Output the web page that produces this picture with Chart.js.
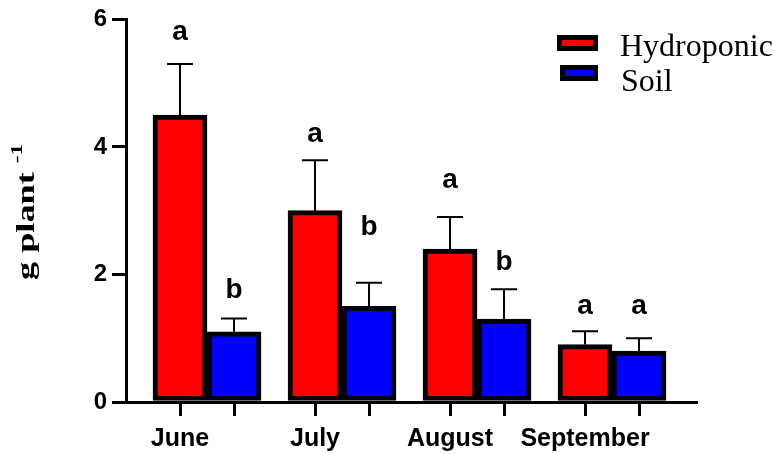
<!DOCTYPE html>
<html>
<head>
<meta charset="utf-8">
<script src="https://cdn.jsdelivr.net/npm/chart.js@4"></script>
<style>
  html, body { margin: 0; padding: 0; background: #fff; }
  #wrap { width: 774px; height: 454px; }
</style>
</head>
<body>
<div id="wrap"><canvas id="chart"></canvas></div>
<script>
// ---- data ----
const months = ['June', 'July', 'August', 'September'];
const hydroponic = [4.5, 3.0, 2.4, 0.9];
const soil = [1.1, 1.5, 1.3, 0.8];
const hydroponicErr = [0.8, 0.79, 0.5, 0.21];
const soilErr = [0.21, 0.37, 0.47, 0.2];
const hydroponicLetters = ['a', 'a', 'a', 'a'];
const soilLetters = ['b', 'b', 'b', 'a'];
// the letters sit at hand-picked heights in the original (g plant-1 units)
const hydroponicLetterAt = [5.67, 4.07, 3.35, 1.38];
const soilLetterAt = [1.63, 2.62, 2.07, 1.38];
const yTicks = [0, 2, 4, 6];

const SANS = "'Liberation Sans', Arial, sans-serif";
const SERIF = "'Liberation Serif', 'Times New Roman', serif";
const BAR_W = 54;
const HALF = 0.2; // half a bar, in category units (54px of 135px)

const toPoints = arr => arr.map((v, i) => ({ x: i, y: v }));

// error bars (upper only) and significance letters
const errorBars = {
  id: 'errorBars',
  afterDatasetsDraw(chart) {
    const ctx = chart.ctx;
    const y = chart.scales.y;
    const sets = [
      { err: hydroponicErr, vals: hydroponic, letters: hydroponicLetters, at: hydroponicLetterAt },
      { err: soilErr, vals: soil, letters: soilLetters, at: soilLetterAt }
    ];
    ctx.save();
    sets.forEach((s, d) => {
      const meta = chart.getDatasetMeta(d);
      meta.data.forEach((bar, i) => {
        const top = y.getPixelForValue(s.vals[i] + s.err[i]);
        ctx.strokeStyle = '#000';
        ctx.lineWidth = 2;
        ctx.beginPath();
        ctx.moveTo(bar.x, bar.y);
        ctx.lineTo(bar.x, top);
        ctx.moveTo(bar.x - 13, top);
        ctx.lineTo(bar.x + 13, top);
        ctx.stroke();

        ctx.fillStyle = '#000';
        ctx.font = 'bold 28px ' + SANS;
        ctx.textAlign = 'center';
        ctx.textBaseline = 'alphabetic';
        ctx.fillText(s.letters[i], bar.x, y.getPixelForValue(s.at[i]));
      });
    });
    ctx.restore();
  }
};

// legend in the top right and the rotated y title
const decorations = {
  id: 'decorations',
  afterDraw(chart) {
    const ctx = chart.ctx;
    ctx.save();
    const rows = [
      { ds: chart.data.datasets[0], box: [559.5, 37.5, 36, 11], tx: 620, ty: 56 },
      { ds: chart.data.datasets[1], box: [562.5, 67.5, 33, 11], tx: 621, ty: 91 }
    ];
    rows.forEach(r => {
      ctx.fillStyle = r.ds.backgroundColor;
      ctx.fillRect(...r.box);
      ctx.strokeStyle = '#000';
      ctx.lineWidth = 5;
      ctx.strokeRect(...r.box);
      ctx.fillStyle = '#000';
      ctx.font = '32px ' + SERIF;
      ctx.textAlign = 'left';
      ctx.textBaseline = 'alphabetic';
      ctx.fillText(r.ds.label, r.tx, r.ty);
    });

    // "g plant -1", stretched along its length like the source
    ctx.translate(34, 280);
    ctx.rotate(-Math.PI / 2);
    ctx.scale(1.45, 1);
    ctx.font = 'bold 25px ' + SERIF;
    ctx.fillText('g plant ', 0, 0);
    const w = ctx.measureText('g plant ').width;
    ctx.font = 'bold 16px ' + SERIF;
    ctx.fillText('-1', w, -12);
    ctx.restore();
  }
};

new Chart(document.getElementById('chart'), {
  type: 'bar',
  data: {
    datasets: [
      {
        label: 'Hydroponic',
        data: toPoints(hydroponic),
        backgroundColor: '#ff0000',
        borderColor: '#000',
        borderWidth: 5,
        borderSkipped: false,
        barThickness: BAR_W
      },
      {
        label: 'Soil',
        data: toPoints(soil),
        backgroundColor: '#0000ff',
        borderColor: '#000',
        borderWidth: 5,
        borderSkipped: false,
        barThickness: BAR_W
      }
    ]
  },
  options: {
    responsive: true,
    maintainAspectRatio: false,
    animation: false,
    layout: { padding: { top: 19, right: 78, left: 0, bottom: 0 } },
    plugins: {
      legend: { display: false },
      tooltip: { enabled: false }
    },
    scales: {
      x: {
        type: 'linear',
        min: -0.6,
        max: 3.622,
        offset: false,
        afterBuildTicks(scale) {
          scale.ticks = months.flatMap((m, i) => [{ value: i - HALF }, { value: i + HALF }]);
        },
        afterFit(scale) { scale.height = 52; },
        ticks: {
          autoSkip: false,
          maxRotation: 0,
          color: '#000',
          font: { family: SANS, size: 25, weight: 'bold' },
          padding: 8,
          callback: (v, i) => (i % 2 === 0 ? months[i / 2] : '')
        },
        grid: {
          offset: false,
          drawOnChartArea: false,
          color: '#000',
          lineWidth: 3,
          tickLength: 14
        },
        border: { color: '#000', width: 3 }
      },
      y: {
        min: 0,
        max: 6,
        afterBuildTicks(scale) {
          scale.ticks = yTicks.map(v => ({ value: v }));
        },
        afterFit(scale) { scale.width = 126; },
        ticks: {
          color: '#000',
          font: { family: SANS, size: 24, weight: 'bold' },
          padding: 5
        },
        grid: {
          drawOnChartArea: false,
          color: '#000',
          lineWidth: 3,
          tickLength: 14
        },
        border: { color: '#000', width: 3 }
      }
    }
  },
  plugins: [errorBars, decorations]
});
</script>
</body>
</html>
